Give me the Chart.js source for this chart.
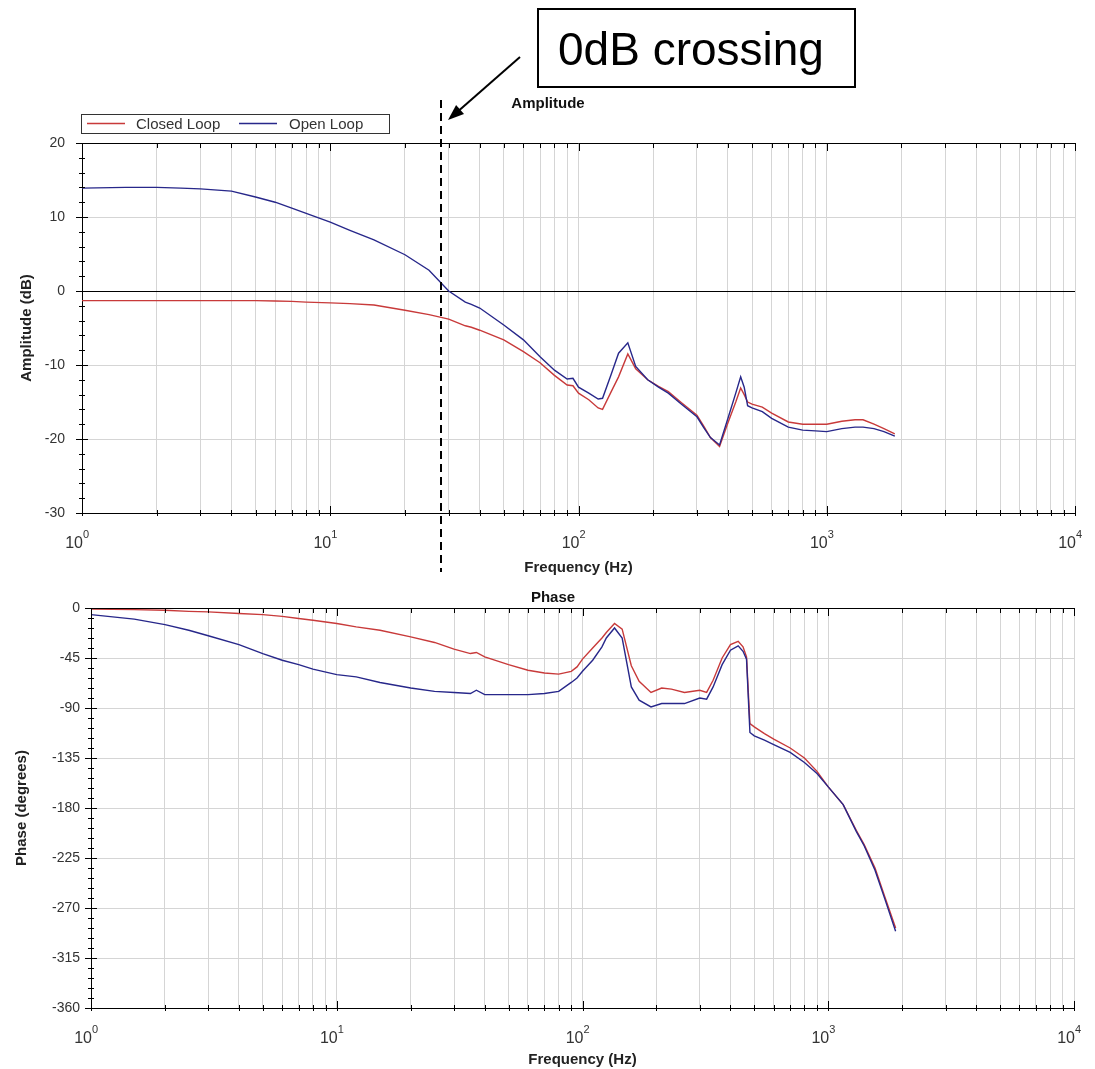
<!DOCTYPE html>
<html>
<head>
<meta charset="utf-8">
<title>Bode plot - 0dB crossing</title>
<script src="https://cdn.jsdelivr.net/npm/chart.js@4.4.1/dist/chart.umd.min.js"></script>
<style>
  html, body { margin: 0; padding: 0; background: #fff; }
  #wrap { position: relative; width: 1095px; height: 1069px; }
  canvas { position: absolute; left: 0; }
  #amp { top: 0; }
  #phase { top: 580px; }
</style>
</head>
<body>
<div id="wrap">
  <canvas id="amp" width="1095" height="580"></canvas>
  <canvas id="phase" width="1095" height="489"></canvas>
</div>
<script>
// =====================
// ======= Data
//======================
const freqHz = [1, 1.5, 2, 2.5, 3, 4, 5, 6, 7, 8,
    10, 12, 15, 20, 25, 30, 35, 37, 40, 50,
    60, 70, 80, 90, 95, 100, 110, 120, 125, 135,
    145, 158, 170, 190, 210, 230, 260, 300, 320, 340,
    370, 400, 430, 450, 465, 480, 500, 550, 600, 700,
    800, 900, 1000, 1150, 1300, 1400, 1550, 1700, 1880];
// amplitude, dB
const closedAmp = [-1.3, -1.3, -1.3, -1.3, -1.3, -1.3, -1.3, -1.35, -1.4, -1.5,
    -1.6, -1.7, -1.9, -2.6, -3.2, -3.8, -4.7, -4.9, -5.3, -6.6,
    -8.2, -9.7, -11.4, -12.7, -12.8, -13.8, -14.7, -15.8, -16.0, -13.7,
    -11.6, -8.5, -10.5, -12.0, -12.9, -13.6, -15.1, -16.8, -18.3, -19.8,
    -21.0, -17.8, -15.0, -13.1, -14.0, -15.0, -15.3, -15.7, -16.5, -17.7,
    -18.0, -18.0, -18.0, -17.6, -17.4, -17.4, -18.0, -18.6, -19.3];
const openAmp = [13.9, 14.0, 14.0, 13.9, 13.8, 13.5, 12.7, 12.0, 11.2, 10.5,
    9.3, 8.2, 6.9, 4.9, 2.8, 0.0, -1.5, -1.8, -2.3, -4.6,
    -6.6, -8.9, -10.7, -11.9, -11.8, -13.0, -13.8, -14.6, -14.5, -11.4,
    -8.4, -7.0, -10.2, -12.0, -13.0, -13.8, -15.3, -17.0, -18.5, -19.8,
    -20.8, -17.2, -13.8, -11.6, -13.0, -15.5, -15.8, -16.3, -17.2, -18.4,
    -18.8, -18.9, -19.0, -18.6, -18.4, -18.4, -18.6, -19.0, -19.6];
// phase, degrees
const closedPhase = [-1, -1.5, -2, -3, -3.5, -5, -6, -7.5, -9.5, -11,
    -14, -17, -20, -26, -31, -37, -41, -40, -44, -51,
    -56, -58.5, -59.5, -57, -53, -46, -36, -27, -22, -14,
    -19, -52, -66, -76, -72, -73, -76, -74, -76, -65,
    -45, -33, -30, -35, -44, -104, -107, -113, -118, -126,
    -135, -147, -161, -177, -200, -213, -234, -260, -288];
const openPhase = [-6, -10, -15, -20, -25, -33, -41, -47, -51, -55,
    -60, -62, -67, -72, -75, -76, -77, -74, -78, -78,
    -78, -77, -75, -67, -63, -57, -47, -35, -27, -18,
    -27, -71, -83, -89, -86, -86, -86, -81, -82, -71,
    -51, -38, -34, -39, -46, -112, -115, -119, -123, -130,
    -139, -149, -161, -177, -201, -214, -236, -262, -291];
const decadeExp = [0, 1, 2, 3, 4];
const crossingHz = 28;

// =====================
// ======= Look
//======================
const redLine = '#c83a3a';
const blueLine = '#27278a';
const gridGrey = '#d5d5d5';
const fontFam = "'Liberation Sans', Arial, sans-serif";
Chart.defaults.font.family = fontFam;
Chart.defaults.color = '#333';

// 1..9 x 10^n ticks for the log axis
const logTicks = [];
decadeExp.forEach(e => {
    for (let m = 1; m <= 9; m++) {
        if (e < 4 || m === 1) logTicks.push(m * Math.pow(10, e));
    }
});
const isDecade = (v) => decadeExp.some(e => Math.pow(10, e) === v);

const points = (ys) => freqHz.map((f, i) => ({ x: f, y: ys[i] }));

// frame: top border, tick marks, 10^n labels, plot title
const frame = (opts) => ({
    id: 'frame',
    afterDraw(chart) {
        const { ctx, chartArea: a, scales: { x, y } } = chart;
        ctx.save();
        ctx.strokeStyle = '#000';
        ctx.lineWidth = 1;
        ctx.beginPath();
        ctx.moveTo(a.left, a.top + 0.5);
        ctx.lineTo(a.right, a.top + 0.5);
        logTicks.forEach(v => {
            const px = Math.round(x.getPixelForValue(v)) + 0.5;
            const big = isDecade(v);
            ctx.moveTo(px, a.top);
            ctx.lineTo(px, a.top + (big ? 8 : 5));
            ctx.moveTo(px, a.bottom + 3);
            ctx.lineTo(px, a.bottom - (big ? 7 : 3));
        });
        for (let v = y.min; v <= y.max; v += opts.minor) {
            const py = Math.round(y.getPixelForValue(v)) + 0.5;
            const big = v % opts.major === 0;
            ctx.moveTo(a.left - (big ? 6 : 3), py);
            ctx.lineTo(a.left + (big ? 6 : 3), py);
        }
        ctx.stroke();
        // decade labels
        ctx.fillStyle = '#333';
        ctx.textBaseline = 'alphabetic';
        decadeExp.forEach(e => {
            const px = x.getPixelForValue(Math.pow(10, e));
            ctx.font = '16px ' + fontFam;
            ctx.textAlign = 'right';
            ctx.fillText('10', px + 1, a.bottom + 35);
            ctx.font = '11px ' + fontFam;
            ctx.textAlign = 'left';
            ctx.fillText(String(e), px + 1, a.bottom + 25);
        });
        ctx.font = 'bold 15px ' + fontFam;
        ctx.textAlign = 'center';
        ctx.fillStyle = '#111';
        ctx.fillText(opts.title, opts.titleX, a.top - opts.titleGap);
        ctx.restore();
        if (opts.extra) opts.extra(chart);
    }
});

// legend, dashed marker and the "0dB crossing" callout
const drawCallout = (chart) => {
    const { ctx, scales: { x } } = chart;
    ctx.save();
    // legend box
    ctx.strokeStyle = '#333';
    ctx.lineWidth = 1;
    ctx.strokeRect(81.5, 114.5, 308, 19);
    ctx.font = '15px ' + fontFam;
    ctx.textAlign = 'left';
    ctx.textBaseline = 'alphabetic';
    const items = [['Closed Loop', redLine, 87, 136], ['Open Loop', blueLine, 239, 289]];
    items.forEach(([label, color, lx, tx]) => {
        ctx.strokeStyle = color;
        ctx.lineWidth = 1.5;
        ctx.beginPath();
        ctx.moveTo(lx, 123.5);
        ctx.lineTo(lx + 38, 123.5);
        ctx.stroke();
        ctx.fillStyle = '#333';
        ctx.fillText(label, tx, 129);
    });
    // dashed line at the crossing
    const px = Math.round(x.getPixelForValue(crossingHz));
    ctx.strokeStyle = '#000';
    ctx.lineWidth = 2;
    ctx.setLineDash([8, 5]);
    ctx.beginPath();
    ctx.moveTo(px, 100);
    ctx.lineTo(px, 572);
    ctx.stroke();
    ctx.setLineDash([]);
    // callout box
    ctx.strokeRect(538, 9, 317, 78);
    ctx.fillStyle = '#000';
    ctx.font = '46px ' + fontFam;
    ctx.fillText('0dB crossing', 558, 65);
    // arrow
    const tip = [448, 120], tail = [520, 57];
    const ang = Math.atan2(tip[1] - tail[1], tip[0] - tail[0]);
    ctx.beginPath();
    ctx.moveTo(tail[0], tail[1]);
    ctx.lineTo(tip[0] - 10 * Math.cos(ang), tip[1] - 10 * Math.sin(ang));
    ctx.stroke();
    ctx.beginPath();
    ctx.moveTo(tip[0], tip[1]);
    ctx.lineTo(tip[0] - 16 * Math.cos(ang) + 6 * Math.sin(ang), tip[1] - 16 * Math.sin(ang) - 6 * Math.cos(ang));
    ctx.lineTo(tip[0] - 16 * Math.cos(ang) - 6 * Math.sin(ang), tip[1] - 16 * Math.sin(ang) + 6 * Math.cos(ang));
    ctx.closePath();
    ctx.fill();
    ctx.restore();
};

const xAxis = (height, titleBottom) => ({
    type: 'logarithmic',
    min: 1,
    max: 10000,
    afterBuildTicks: (scale) => { scale.ticks = logTicks.map(v => ({ value: v })); },
    afterFit: (scale) => { scale.height = height; },
    grid: { color: gridGrey, drawTicks: false },
    border: { color: '#000' },
    ticks: { display: false },
    title: {
        display: true,
        text: 'Frequency (Hz)',
        color: '#222',
        font: { size: 15, weight: 'bold', lineHeight: 1.2 },
        padding: { top: 0, bottom: titleBottom }
    }
});

// =====================
// ======= Amplitude chart
//======================
const ampChart = new Chart(document.querySelector('#amp'), {
    type: 'line',
    data: {
        datasets: [{
            label: 'Open Loop',
            data: points(openAmp),
            borderColor: blueLine,
            borderWidth: 1.4,
            pointRadius: 0,
            order: 0
        }, {
            label: 'Closed Loop',
            data: points(closedAmp),
            borderColor: redLine,
            borderWidth: 1.4,
            pointRadius: 0,
            order: 1
        }]
    },
    options: {
        responsive: false,
        animation: false,
        events: [],
        layout: { padding: { left: 0, right: 20, top: 143, bottom: 0 } },
        plugins: { legend: { display: false }, tooltip: { enabled: false } },
        scales: {
            x: xAxis(67, 3),
            y: {
                min: -30,
                max: 20,
                afterFit: (scale) => { scale.width = 82; },
                grid: {
                    color: (c) => (c.tick && c.tick.value === 0 ? '#000' : gridGrey),
                    drawTicks: false
                },
                border: { color: '#000' },
                ticks: { stepSize: 10, padding: 17, font: { size: 14 } },
                title: {
                    display: true,
                    text: 'Amplitude (dB)',
                    color: '#222',
                    font: { size: 15, weight: 'bold', lineHeight: 1.2 },
                    padding: { top: 18, bottom: 0 }
                }
            }
        }
    },
    plugins: [frame({ minor: 2, major: 10, title: 'Amplitude', titleX: 548, titleGap: 35, extra: drawCallout })]
});

// =====================
// ======= Phase chart
//======================
const phaseChart = new Chart(document.querySelector('#phase'), {
    type: 'line',
    data: {
        datasets: [{
            label: 'Open Loop',
            data: points(openPhase),
            borderColor: blueLine,
            borderWidth: 1.4,
            pointRadius: 0,
            order: 0
        }, {
            label: 'Closed Loop',
            data: points(closedPhase),
            borderColor: redLine,
            borderWidth: 1.4,
            pointRadius: 0,
            order: 1
        }]
    },
    options: {
        responsive: false,
        animation: false,
        events: [],
        layout: { padding: { left: 0, right: 21, top: 28, bottom: 0 } },
        plugins: { legend: { display: false }, tooltip: { enabled: false } },
        scales: {
            x: xAxis(61, 0),
            y: {
                min: -360,
                max: 0,
                afterFit: (scale) => { scale.width = 91; },
                grid: { color: gridGrey, drawTicks: false },
                border: { color: '#000' },
                ticks: { stepSize: 45, padding: 11, font: { size: 14 } },
                title: {
                    display: true,
                    text: 'Phase (degrees)',
                    color: '#222',
                    font: { size: 15, weight: 'bold', lineHeight: 1.2 },
                    padding: { top: 13, bottom: 0 }
                }
            }
        }
    },
    plugins: [frame({ minor: 9, major: 45, title: 'Phase', titleX: 553, titleGap: 6 })]
});
</script>
</body>
</html>
